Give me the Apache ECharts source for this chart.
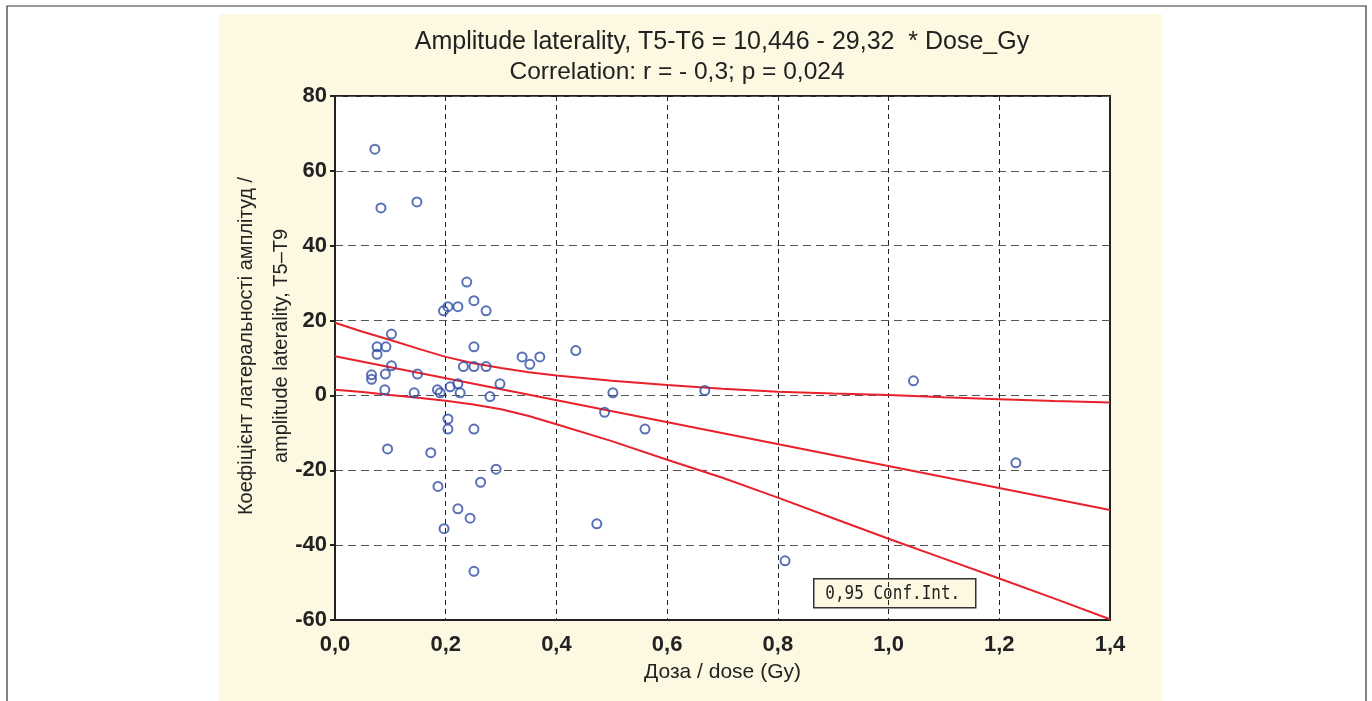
<!DOCTYPE html>
<html>
<head>
<meta charset="utf-8">
<script src="https://cdn.jsdelivr.net/npm/echarts@6/dist/echarts.min.js"></script>
<style>
html,body{margin:0;padding:0;background:#fff;}
#chart{width:1372px;height:701px;}
</style>
</head>
<body>
<div id="chart"></div>
<script>
// ---- data ----
const titleLine1 = 'Amplitude laterality, T5-T6 = 10,446 - 29,32  * Dose_Gy';
const titleLine2 = 'Correlation: r = - 0,3; p = 0,024';
const xAxisName = 'Доза / dose (Gy)';
const yAxisName = 'Коефіцієнт латеральності амплітуд /\namplitude laterality, T5–T9';
const legendText = '0,95 Conf.Int.';

const doseGy = [0.072,0.083,0.148,0.238,0.204,0.222,0.196,0.251,0.273,0.102,
  0.076,0.092,0.076,0.251,0.338,0.102,0.232,0.251,0.273,0.066,
  0.066,0.091,0.149,0.090,0.143,0.185,0.190,0.208,0.222,0.226,
  0.298,0.280,0.352,0.370,0.435,0.502,0.487,0.560,1.045,1.230,
  0.668,0.813,0.473,0.204,0.204,0.251,0.095,0.173,0.291,0.186,
  0.263,0.222,0.244,0.197,0.251];
const laterality = [65.8,50.1,51.7,30.3,23.7,23.7,22.6,25.3,22.6,16.4,
  13.0,13.0,11.0,13.0,10.3,7.9,7.7,7.7,7.7,5.5,
  4.3,5.7,5.7,1.5,0.7,1.5,0.7,2.3,3.1,0.7,
  3.1,-0.3,8.3,10.3,12.0,0.7,-4.5,-9.0,3.9,-18.0,
  1.3,-44.2,-34.3,-6.3,-9.0,-9.0,-14.3,-15.3,-19.7,-24.3,
  -23.2,-30.3,-32.8,-35.6,-47.0];

// regression line endpoints (from the title equation)
const fitX = [0, 1.4];
const fitY = [10.446, -30.602];

// confidence band
const bandX = [0,0.05,0.1,0.15,0.2,0.25,0.3,0.35,0.4,0.5,0.6,0.7,0.8,0.9,1.0,1.1,1.2,1.3,1.4];
const bandUpper = [19.4,17.0,14.8,12.5,10.3,8.6,7.3,6.2,5.3,3.9,2.8,1.8,1.0,0.5,0.1,-0.5,-1.0,-1.5,-1.9];
const bandLower = [1.5,0.9,0.1,-0.6,-1.4,-2.4,-3.7,-5.5,-7.7,-12.2,-17.2,-22.0,-27.3,-32.8,-38.3,-43.6,-48.9,-54.3,-59.8];

const xTicks = {min:0, max:1.4, interval:0.2};
const yTicks = {min:-60, max:80, interval:20};

// ---- chart ----
const zip = (a,b) => a.map((v,i)=>[v,b[i]]);
const chart = echarts.init(document.getElementById('chart'), null, {renderer:'canvas'});
const red = '#e8212b';
const blue = '#2f4ea6';
const fontMain = '"Liberation Sans", Arial, sans-serif';

chart.setOption({
  animation:false,
  backgroundColor:'#ffffff',
  graphic:[
    {type:'rect', z:-10, shape:{x:7,y:6,width:1359,height:720}, style:{fill:'#fff',stroke:'#333',lineWidth:1.2}},
    {type:'rect', z:-9, shape:{x:219,y:14,width:943,height:700}, style:{fill:'#fdf8e1',stroke:null}},
    {type:'group', z:100, left:813, top:578, children:[
      {type:'rect', shape:{x:0,y:0,width:162,height:29}, style:{fill:'#fdf8e1',stroke:'#333',lineWidth:1.5}},
      {type:'text', x:79, y:15, scaleY:1.2, style:{text:legendText, fill:'#222', font:'16px "DejaVu Sans Mono", monospace', align:'center', verticalAlign:'middle'}}
    ]}
  ],
  title:[
    {text:titleLine1, left:717, top:25, textAlign:'center',
     textStyle:{fontFamily:fontMain, fontWeight:'normal', fontSize:25, color:'#222'}},
    {text:titleLine2, left:672, top:55, textAlign:'center',
     textStyle:{fontFamily:fontMain, fontWeight:'normal', fontSize:24.5, color:'#222'}}
  ],
  grid:{left:335, top:96, width:775, height:524, show:true, backgroundColor:'#fff', borderColor:'#222', borderWidth:2, containLabel:false},
  xAxis:{
    type:'value', min:xTicks.min, max:xTicks.max, interval:xTicks.interval,
    name:xAxisName, nameLocation:'middle', nameGap:42, nameMoveOverlap:false,
    nameTextStyle:{fontFamily:fontMain, fontSize:21, color:'#222'},
    axisLine:{show:true, onZero:false, lineStyle:{color:'#222', width:2}},
    axisTick:{show:false},
    axisLabel:{margin:14, fontFamily:fontMain, fontWeight:'bold', fontSize:22, color:'#222',
      formatter:v=>v.toFixed(1).replace('.', ',')},
    splitLine:{show:true, lineStyle:{color:'#222', type:[5,4], width:1}}
  },
  yAxis:{
    type:'value', min:yTicks.min, max:yTicks.max, interval:yTicks.interval,
    name:yAxisName, nameLocation:'middle', nameGap:36, nameRotate:90, nameMoveOverlap:false,
    nameTextStyle:{fontFamily:fontMain, fontSize:20, color:'#222', lineHeight:35, padding:[0,0,0,24]},
    axisLine:{show:true, onZero:false, lineStyle:{color:'#222', width:2}},
    axisTick:{show:true, inside:false, length:5, lineStyle:{color:'#222', width:2}},
    axisLabel:{margin:8, fontFamily:fontMain, fontWeight:'bold', fontSize:22, color:'#222'},
    splitLine:{show:true, lineStyle:{color:'#555', type:[8,5], width:1}}
  },
  series:[
    {type:'scatter', name:'data', data:zip(doseGy, laterality), symbol:'circle', symbolSize:9,
     itemStyle:{color:'rgba(0,0,0,0)', borderColor:blue, borderWidth:2}, z:5},
    {type:'line', name:'fit', data:zip(fitX, fitY), showSymbol:false, symbol:'none',
     lineStyle:{color:red, width:2}, z:4},
    {type:'line', name:'upper', data:zip(bandX, bandUpper), showSymbol:false, symbol:'none',
     lineStyle:{color:red, width:2}, z:4},
    {type:'line', name:'lower', data:zip(bandX, bandLower), showSymbol:false, symbol:'none',
     lineStyle:{color:red, width:2}, z:4}
  ]
});
</script>
</body>
</html>
